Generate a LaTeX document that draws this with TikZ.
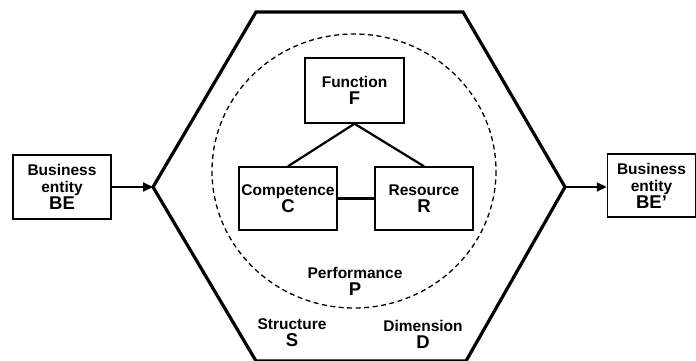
\documentclass[tikz,border=0pt]{standalone}
\usepackage{fontspec}
\setmainfont{Liberation Sans}
\usepackage{tikz}
\usetikzlibrary{calc,arrows.meta}

\tikzset{
  unitbox/.style={draw, line width=1.4pt, minimum width=98pt, minimum height=64pt,
    inner sep=0pt, align=center, font=\bfseries\fontsize{15.5}{17}\selectfont},
  lbl/.style={align=center, inner sep=0pt, font=\bfseries\fontsize{15.5}{17}\selectfont},
  link/.style={line width=2.2pt},
  flow/.style={line width=1.8pt, -{Triangle[length=10pt,width=9pt]}},
}
\newcommand{\tag}[1]{{\fontsize{18.5}{19}\selectfont #1}}

\begin{document}
\begin{tikzpicture}[x=1pt,y=-1pt]
\useasboundingbox (0,0) rectangle (696,360);

% Outer hexagon
\coordinate (hl) at (153,187);
\coordinate (hr) at (565,187);
\draw[line width=3.2pt, line join=miter] (256,12) -- (463,12) -- (hr) -- (466,361)
  -- (256,361) -- (hl) -- cycle;

% Performance boundary
\draw[line width=1.3pt, dash pattern=on 5pt off 3.5pt] (354,171) ellipse (142 and 137);

% Inner units
\node[unitbox, minimum width=99pt, minimum height=65pt] (fun) at (354.5,90.5) {Function\\\tag{F}};
\node[unitbox, minimum height=63pt] (comp) at (288,198.5) {Competence\\\tag{C}};
\node[unitbox, minimum height=63pt] (res) at (424,198.5) {Resource\\\tag{R}};

\draw[link] (fun.south) -- (comp.north);
\draw[link] (fun.south) -- (res.north);
\draw[link] (comp.east) -- (res.west);

\node[lbl] (perf) at (355,281) {Performance\\\tag{P}};
\node[lbl] (struct) at (292,333) {Structure\\\tag{S}};
\node[lbl] (dim) at (423,334) {Dimension\\\tag{D}};

% Business entities in and out
\node[unitbox] (be) at (62,187) {Business\\entity\\\tag{BE}};
\node[unitbox, minimum width=88pt, minimum height=63pt] (beo) at (651.5,185.5)
  {Business\\entity\\\tag{BE’}};

\draw[flow] (be.east) -- (hl);
\draw[flow] (hr) -- (hr -| beo.west);
\end{tikzpicture}
\end{document}
